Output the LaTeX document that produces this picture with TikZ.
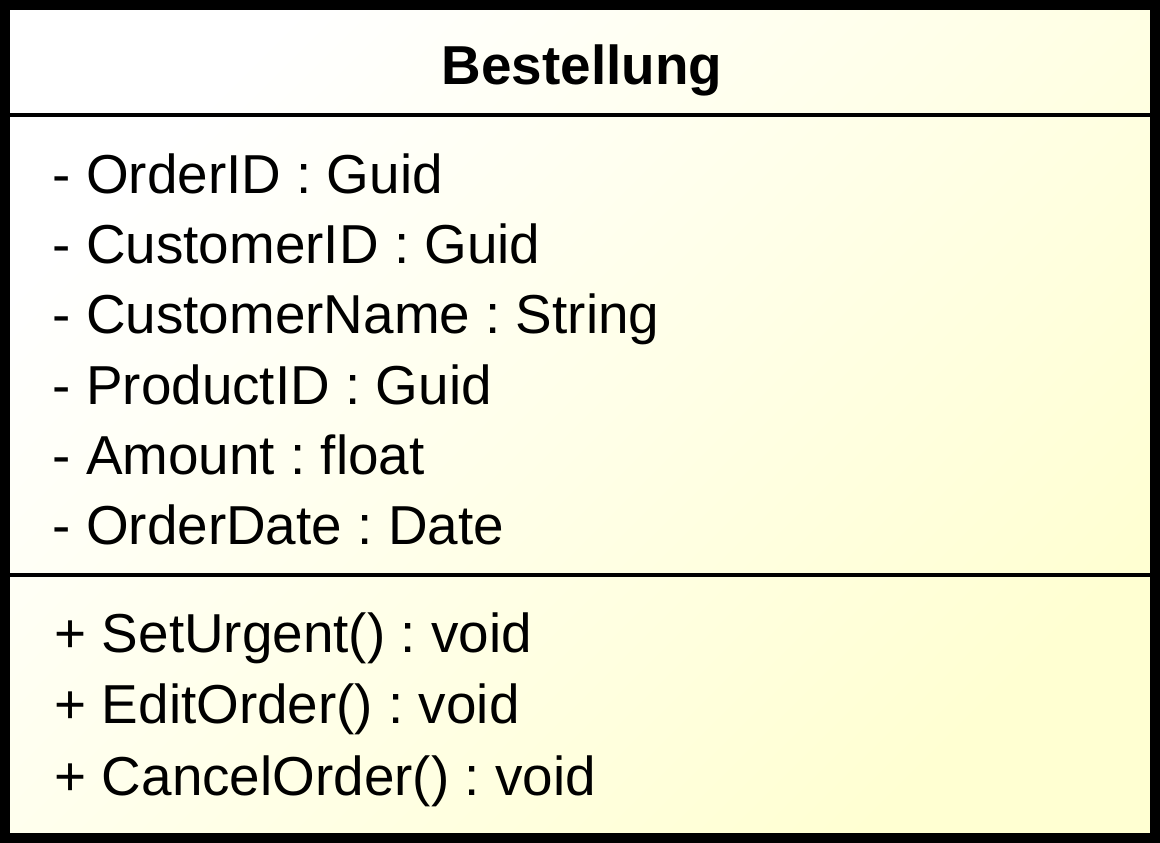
\documentclass[tikz,border=0pt]{standalone}
\usepackage{fontspec}
\setmainfont{Liberation Sans}
\frenchspacing
\definecolor{classyellow}{RGB}{255,255,210}
\newcommand{\umlfont}{\fontsize{15.6}{18}\selectfont}
\begin{document}
\begin{tikzpicture}[x=0.01cm, y=-0.01cm, every node/.style={anchor=base west, inner sep=0pt, font=\umlfont}]
        \useasboundingbox (0,0) rectangle (1160,843);
        % class box
        \shade[shading=axis, top color=white, bottom color=classyellow, shading angle=45] (5,5) rectangle (1155,838);
        \draw[line width=2.7pt] (5,5) rectangle (1155,838);
        \draw[line width=0.9pt] (9,115) -- (1151,115);
        \draw[line width=0.9pt] (9,575) -- (1151,575);
        % name
        \node[anchor=base, font=\umlfont\bfseries] (name) at (582,85) {Bestellung};
        % attributes
        \node (a1) at (52,194) {- OrderID : Guid};
        \node (a2) at (52,264) {- CustomerID : Guid};
        \node (a3) at (52,334) {- CustomerName : String};
        \node (a4) at (52,405) {- ProductID : Guid};
        \node (a5) at (52,475) {- Amount : float};
        \node (a6) at (52,545) {- OrderDate : Date};
        % operations
        \node (m1) at (54,653) {+ SetUrgent() : void};
        \node (m2) at (54,724) {+ EditOrder() : void};
        \node (m3) at (54,795) {+ CancelOrder() : void};
    \end{tikzpicture}
\end{document}
